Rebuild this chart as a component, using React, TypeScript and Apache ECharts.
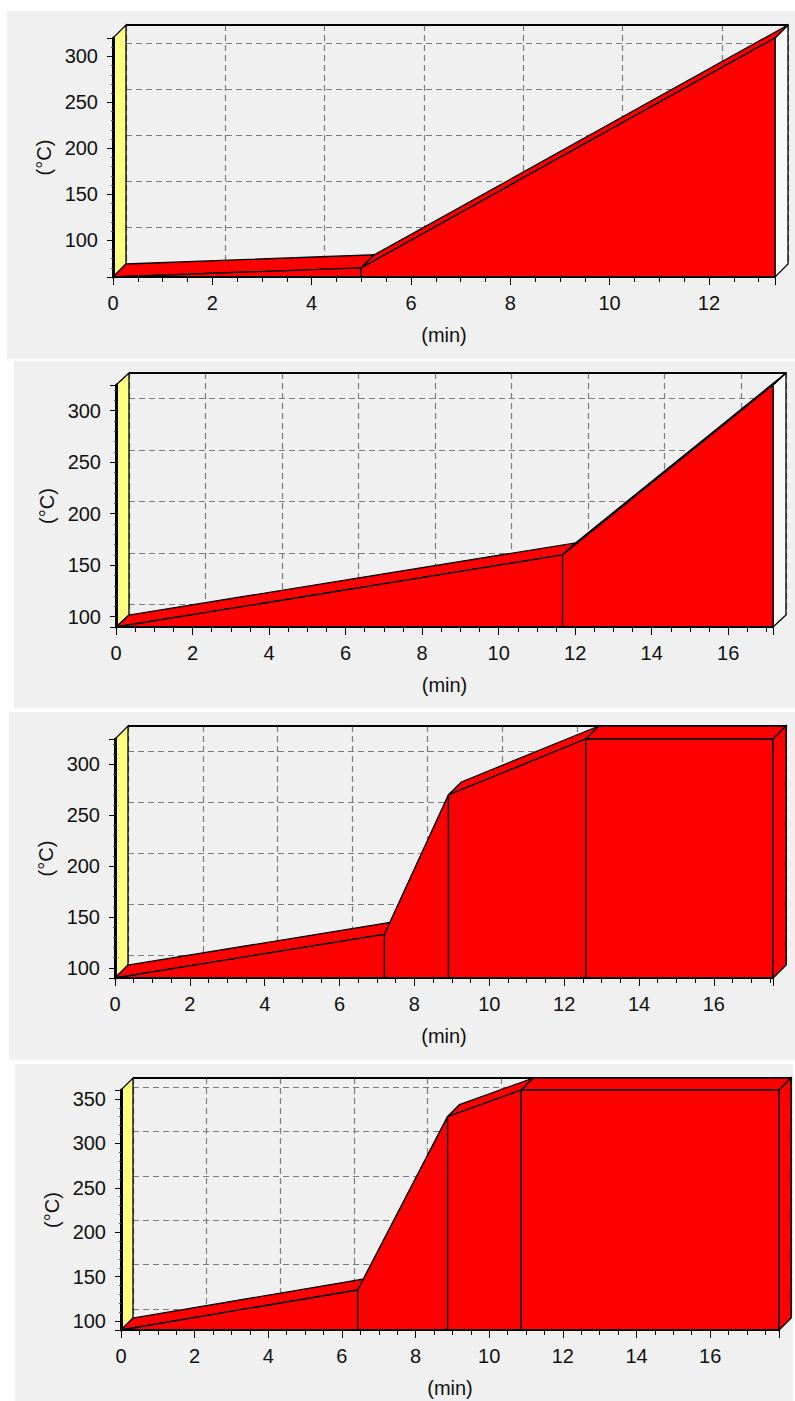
import React, { useEffect, useRef } from "react";
import * as echarts from "echarts";

// ---- data (time in min, temperature in °C) ----
const P1_TIME = [0, 5, 13.33];
const P1_TEMP = [60, 70, 320];
const P2_TIME = [0, 11.67, 17.17];
const P2_TEMP = [90, 160, 325];
const P3_TIME = [0, 7.2, 8.91, 12.58, 17.58];
const P3_TEMP = [90, 133, 270, 325, 325];
const P4_TIME = [0, 6.43, 8.87, 10.87, 17.87];
const P4_TEMP = [90, 135, 330, 360, 360];

const X_NAME = "(min)";
const Y_NAME = "(°C)";
const X_INTERVAL = 2;

// ---- layout / style ----
const FONT = "'Liberation Sans', Arial, sans-serif";
const FONT_SIZE = 20;
const TEXT = "#111";
const BG = "#f0f0f0";
const RED = "#ff0000";
const YELLOW = "#ffff80";
const GRID_COLOR = "#7c7c7c";
const OUTLINE = 1.3;

const PANELS = [
  { time: P1_TIME, temp: P1_TEMP, bg: [7, 11, 788, 348], front: [113, 38, 775, 277], depth: [13, 13] },
  { time: P2_TIME, temp: P2_TEMP, bg: [14, 361, 781, 347], front: [116, 385, 773, 627], depth: [13, 12] },
  { time: P3_TIME, temp: P3_TEMP, bg: [9, 712, 786, 348], front: [115, 739, 773, 978], depth: [13, 13] },
  { time: P4_TIME, temp: P4_TEMP, bg: [15, 1064, 778, 337], front: [121, 1090, 779, 1330], depth: [12, 12] },
];

function buildOption(cfg: any): any {
  const [bx, by] = cfg.bg;
  const [fl, ft, fr, fb] = cfg.front;
  const [dx, dy] = cfg.depth;
  const gl = fl - bx;
  const gt = ft - by;
  const gw = fr - fl;
  const gh = fb - ft;
  const times: number[] = cfg.time;
  const temps: number[] = cfg.temp;
  const xMax = times[times.length - 1];
  const yMin = Math.min(...temps);
  const yMax = Math.max(...temps);
  const data = times.map((t, i) => [t, temps[i]]);
  const font = { fontFamily: FONT, fontSize: FONT_SIZE, color: TEXT };
  const off = (p: number[]) => [p[0] + dx, p[1] - dy];
  const faceStyle = { fill: RED, stroke: "#000", lineWidth: OUTLINE, lineJoin: "miter" };

  const walls = (_params: any, api: any) => {
    const lb = api.coord([0, yMin]);
    const rt = api.coord([xMax, yMax]);
    const L = lb[0], B = lb[1], R = rt[0], T = rt[1];
    return {
      type: "group",
      children: [
        {
          type: "polygon",
          shape: { points: [[R, B], [R, T], [R + dx, T - dy], [R + dx, B - dy]] },
          style: { fill: "#f8f8f8", stroke: "#000", lineWidth: OUTLINE },
        },
        {
          type: "line",
          shape: { x1: L + dx, y1: T - dy, x2: R + dx, y2: T - dy },
          style: { stroke: "#000", lineWidth: 2 },
        },
        {
          type: "polygon",
          shape: { points: [[L, B], [L, T], [L + dx, T - dy], [L + dx, B - dy]] },
          style: { fill: YELLOW, stroke: "#000", lineWidth: OUTLINE },
        },
      ],
    };
  };

  const profile = (params: any, api: any) => {
    const i = params.dataIndex;
    const n = data.length;
    const base = api.coord([0, yMin])[1];
    const p = api.coord([api.value(0), api.value(1)]);
    const children: any[] = [];
    if (i < n - 1) {
      const q = api.coord(data[i + 1]);
      children.push({ type: "polygon", shape: { points: [p, q, off(q), off(p)] }, style: faceStyle });
      children.push({
        type: "polygon",
        shape: { points: [[p[0], base], p, q, [q[0], base]] },
        style: faceStyle,
      });
    } else if (n > 1 && data[i][1] === data[i - 1][1]) {
      children.push({
        type: "polygon",
        shape: { points: [[p[0], base], p, off(p), [p[0] + dx, base - dy]] },
        style: faceStyle,
      });
    }
    return { type: "group", children };
  };

  return {
    animation: false,
    backgroundColor: BG,
    grid: [
      { left: gl, top: gt, width: gw, height: gh, containLabel: false, outerBoundsMode: "none" },
      { left: gl + dx, top: gt - dy, width: gw, height: gh, containLabel: false, outerBoundsMode: "none" },
    ],
    xAxis: [
      {
        gridIndex: 0,
        type: "value",
        min: 0,
        max: xMax,
        interval: X_INTERVAL,
        z: 10,
        axisLine: { show: true, onZero: false, lineStyle: { color: "#000", width: 2 } },
        axisTick: { show: true, length: 8, lineStyle: { color: "#000", width: 1 } },
        minorTick: { show: true, splitNumber: 4, length: 5, lineStyle: { color: "#000", width: 1 } },
        axisLabel: { ...font, margin: 16, showMaxLabel: false },
        splitLine: { show: false },
        name: X_NAME,
        nameLocation: "middle",
        nameGap: 48,
        nameTextStyle: font,
      },
      {
        gridIndex: 1,
        type: "value",
        min: 0,
        max: xMax,
        interval: X_INTERVAL,
        axisLine: { show: false },
        axisTick: { show: false },
        axisLabel: { show: false },
        splitLine: { show: true, lineStyle: { color: GRID_COLOR, type: [6, 4], width: 1.2 } },
      },
    ],
    yAxis: [
      {
        gridIndex: 0,
        type: "value",
        min: yMin,
        max: yMax,
        z: 10,
        axisLine: { show: true, onZero: false, lineStyle: { color: "#000", width: 3 } },
        axisTick: { show: true, length: 6, lineStyle: { color: "#000", width: 1 } },
        minorTick: { show: true, splitNumber: 5, length: 2, lineStyle: { color: "#555", width: 1 } },
        axisLabel: { ...font, margin: 15, showMinLabel: false, showMaxLabel: false },
        splitLine: { show: false },
        name: Y_NAME,
        nameLocation: "middle",
        nameGap: 57,
        nameTextStyle: font,
      },
      {
        gridIndex: 1,
        type: "value",
        min: yMin,
        max: yMax,
        axisLine: { show: false },
        axisTick: { show: false },
        axisLabel: { show: false },
        splitLine: { show: true, lineStyle: { color: GRID_COLOR, type: [6, 4], width: 1.2 } },
      },
    ],
    series: [
      { type: "custom", xAxisIndex: 0, yAxisIndex: 0, data: [[0, yMin]], renderItem: walls, z: 3, silent: true },
      { type: "custom", xAxisIndex: 0, yAxisIndex: 0, data, renderItem: profile, z: 4, silent: true },
    ],
  };
}

function Panel({ cfg }: { cfg: any }) {
  const ref = useRef<HTMLDivElement>(null);
  useEffect(() => {
    if (!ref.current) return;
    const chart = echarts.init(ref.current, null, { renderer: "svg" });
    chart.setOption(buildOption(cfg));
    return () => chart.dispose();
  }, [cfg]);
  const [x, y, w, h] = cfg.bg;
  return <div ref={ref} style={{ position: "absolute", left: x, top: y, width: w, height: h }} />;
}

export default function App() {
  return (
    <>
      {PANELS.map((cfg, i) => (
        <Panel key={i} cfg={cfg} />
      ))}
    </>
  );
}
